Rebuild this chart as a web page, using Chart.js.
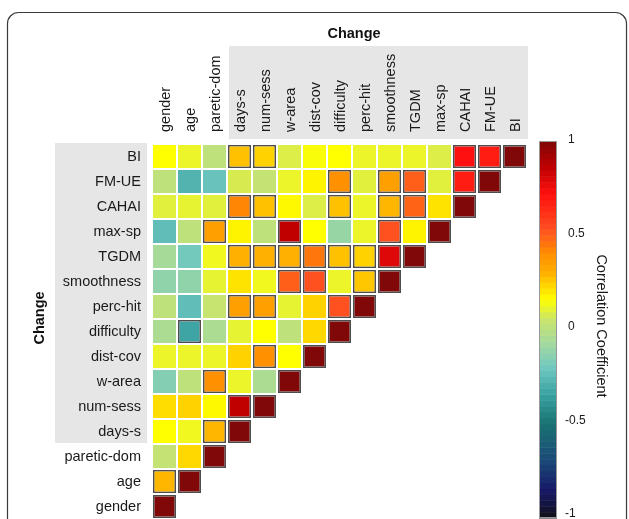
<!DOCTYPE html>
<html>
<head>
<meta charset="utf-8">
<script src="https://cdn.jsdelivr.net/npm/chart.js@4/dist/chart.umd.min.js"></script>
<style>
  html, body { margin: 0; padding: 0; background: #fff; }
  #wrap { width: 629px; height: 519px; }
</style>
</head>
<body>
<div id="wrap"><canvas id="c" width="629" height="519"></canvas></div>
<script>
// Variables, in column order (left to right) and row order (bottom to top)
const variables = ['gender', 'age', 'paretic-dom', 'days-s', 'num-sess', 'w-area', 'dist-cov',
  'difficulty', 'perc-hit', 'smoothness', 'TGDM', 'max-sp', 'CAHAI', 'FM-UE', 'BI'];
// variables from this index on are change scores
const changeStart = 3;

// Pearson correlation of each variable with every variable up to and including itself
const corrGender      = [1];
const corrAge         = [0.29, 1];
const corrPareticDom  = [0.04, 0.23, 1];
const corrDaysS       = [0.16, 0.13, 0.29, 1];
const corrNumSess     = [0.22, 0.24, 0.17, 0.86, 1];
const corrWArea       = [-0.15, 0.02, 0.40, 0.12, -0.04, 1];
const corrDistCov     = [0.12, 0.12, 0.12, 0.24, 0.40, 0.16, 1];
const corrDifficulty  = [-0.04, -0.33, -0.04, 0.11, 0.16, 0.02, 0.23, 1];
const corrPercHit     = [0.02, -0.24, 0.05, 0.35, 0.35, 0.11, 0.24, 0.53, 1];
const corrSmoothness  = [-0.12, -0.12, 0.11, 0.21, 0.13, 0.50, 0.53, 0.12, 0.26, 1];
const corrTGDM        = [-0.06, -0.19, 0.13, 0.30, 0.30, 0.30, 0.45, 0.27, 0.24, 0.79, 1];
const corrMaxSp       = [-0.24, 0.02, 0.35, 0.18, 0.02, 0.86, 0.16, -0.10, 0.12, 0.53, 0.18, 1];
const corrCAHAI       = [0.10, 0.11, 0.10, 0.42, 0.27, 0.17, 0.09, 0.27, 0.12, 0.29, 0.49, 0.21, 1];
const corrFMUE        = [0.02, -0.28, -0.22, 0.08, 0.04, 0.12, 0.18, 0.40, 0.10, 0.35, 0.50, 0.10, 0.68, 1];
const corrBI          = [0.16, 0.12, 0.02, 0.27, 0.24, 0.09, 0.15, 0.16, 0.12, 0.12, 0.12, 0.09, 0.72, 0.68, 1];

// Significant correlations [row, column]; the diagonal is always outlined
const significantPairs = [
  ['BI', 'days-s'], ['BI', 'num-sess'], ['BI', 'CAHAI'], ['BI', 'FM-UE'],
  ['FM-UE', 'difficulty'], ['FM-UE', 'smoothness'], ['FM-UE', 'TGDM'], ['FM-UE', 'CAHAI'],
  ['CAHAI', 'days-s'], ['CAHAI', 'num-sess'], ['CAHAI', 'difficulty'], ['CAHAI', 'smoothness'], ['CAHAI', 'TGDM'],
  ['max-sp', 'paretic-dom'], ['max-sp', 'w-area'], ['max-sp', 'smoothness'],
  ['TGDM', 'days-s'], ['TGDM', 'num-sess'], ['TGDM', 'w-area'], ['TGDM', 'dist-cov'],
  ['TGDM', 'difficulty'], ['TGDM', 'perc-hit'], ['TGDM', 'smoothness'],
  ['smoothness', 'w-area'], ['smoothness', 'dist-cov'], ['smoothness', 'perc-hit'],
  ['perc-hit', 'days-s'], ['perc-hit', 'num-sess'], ['perc-hit', 'difficulty'],
  ['difficulty', 'age'], ['dist-cov', 'num-sess'], ['w-area', 'paretic-dom'],
  ['num-sess', 'days-s'], ['days-s', 'paretic-dom'], ['age', 'gender']
];

const colorbarTicks = [1, 0.5, 0, -0.5, -1];

const rows = [corrGender, corrAge, corrPareticDom, corrDaysS, corrNumSess, corrWArea, corrDistCov,
  corrDifficulty, corrPercHit, corrSmoothness, corrTGDM, corrMaxSp, corrCAHAI, corrFMUE, corrBI];

// Colour map: value -> colour
const colorStops = [
  [-1.00, [16, 16, 24]],
  [-0.85, [24, 24, 104]],
  [-0.70, [26, 72, 120]],
  [-0.50, [26, 114, 114]],
  [-0.35, [56, 160, 160]],
  [-0.20, [112, 200, 192]],
  [-0.08, [160, 216, 160]],
  [ 0.05, [200, 228, 112]],
  [ 0.16, [255, 255, 0]],
  [ 0.30, [255, 176, 0]],
  [ 0.40, [255, 144, 0]],
  [ 0.53, [255, 80, 32]],
  [ 0.72, [255, 16, 16]],
  [ 0.86, [192, 0, 0]],
  [ 1.00, [128, 8, 8]]
];
function colormap(v) {
  if (v <= colorStops[0][0]) return 'rgb(' + colorStops[0][1].join(',') + ')';
  for (let i = 1; i < colorStops.length; i++) {
    const [v1, c1] = colorStops[i];
    if (v <= v1) {
      const [v0, c0] = colorStops[i - 1];
      const t = (v - v0) / (v1 - v0);
      const c = c0.map((a, k) => Math.round(a + (c1[k] - a) * t));
      return 'rgb(' + c.join(',') + ')';
    }
  }
  return 'rgb(' + colorStops[colorStops.length - 1][1].join(',') + ')';
}

function isSignificant(r, c) {
  if (r === c) return true;
  return significantPairs.some(([a, b]) => variables.indexOf(a) === r && variables.indexOf(b) === c);
}

const FONT = '"Liberation Sans", Arial, Helvetica, sans-serif';
const HALF = 0.46;

const datasets = rows.map((vals, r) => ({
  label: variables[r],
  data: variables.map((_, c) => c < vals.length ? [r - HALF, r + HALF] : null),
  grouped: false,
  barPercentage: 1,
  categoryPercentage: 0.92,
  backgroundColor: ctx => {
    const v = vals[ctx.dataIndex];
    return v === undefined ? 'rgba(0,0,0,0)' : colormap(v);
  },
  borderColor: '#4d4d4d',
  borderWidth: ctx => (ctx.dataIndex < vals.length && isSignificant(r, ctx.dataIndex)) ? 1.6 : 0,
  borderSkipped: false
}));

const decorations = {
  id: 'decorations',
  beforeDraw(chart) {
    const { ctx, chartArea, scales: { x, y } } = chart;
    const half = (x.getPixelForValue(1) - x.getPixelForValue(0)) / 2;
    ctx.save();
    ctx.fillStyle = '#fff';
    ctx.fillRect(0, 0, chart.width, chart.height);

    // panel frame
    ctx.strokeStyle = '#3a3a3a';
    ctx.lineWidth = 1.2;
    ctx.beginPath();
    ctx.roundRect(7.5, 12.5, 619, 560, 11);
    ctx.stroke();

    // shaded label blocks for change-score variables
    ctx.fillStyle = '#e6e6e6';
    const bx0 = x.getPixelForValue(changeStart) - half + 2;
    const bx1 = x.getPixelForValue(variables.length - 1) + half + 1;
    ctx.fillRect(bx0, 46, bx1 - bx0, chartArea.top - 5 - 46);
    const by0 = y.getPixelForValue(variables.length - 0.5) - 1;
    const by1 = y.getPixelForValue(changeStart - 0.5) - 1;
    ctx.fillRect(55, by0, chartArea.left - 5 - 55, by1 - by0);

    // group titles
    ctx.fillStyle = '#111';
    ctx.font = 'bold 14.5px ' + FONT;
    ctx.textAlign = 'center';
    ctx.textBaseline = 'middle';
    ctx.fillText('Change', 354, 34);
    ctx.translate(40, 318);
    ctx.rotate(-Math.PI / 2);
    ctx.fillText('Change', 0, 0);
    ctx.restore();
  },
  afterDraw(chart) {
    const { ctx } = chart;
    const top = 141, bottom = 518, left = 539, width = 18;
    const yOf = v => 327 - v * 187;
    ctx.save();
    const steps = 64;
    for (let i = 0; i < steps; i++) {
      const v0 = -1 + (2 * i) / steps;
      const v1 = -1 + (2 * (i + 1)) / steps;
      const yA = Math.max(top, Math.min(bottom, bottom - (bottom - top) * (i + 1) / steps));
      const yB = bottom - (bottom - top) * i / steps;
      ctx.fillStyle = colormap((v0 + v1) / 2);
      ctx.fillRect(left, yA, width, yB - yA + 0.5);
    }
    ctx.strokeStyle = '#999';
    ctx.lineWidth = 1;
    ctx.strokeRect(left + 0.5, top + 0.5, width - 1, bottom - top - 1);

    ctx.fillStyle = '#1a1a1a';
    ctx.font = '12px ' + FONT;
    ctx.textBaseline = 'middle';
    ctx.textAlign = 'left';
    colorbarTicks.forEach(v => {
      const label = String(v);
      const xOff = v < 0 ? 565 : 568;
      ctx.fillText(label, xOff, yOf(v));
    });

    ctx.font = '14.5px ' + FONT;
    ctx.textAlign = 'center';
    ctx.translate(601, 326);
    ctx.rotate(Math.PI / 2);
    ctx.fillText('Correlation Coefficient', 0, 0);
    ctx.restore();
  }
};

new Chart(document.getElementById('c'), {
  type: 'bar',
  data: { labels: variables, datasets },
  options: {
    responsive: false,
    animation: false,
    events: [],
    layout: { padding: { left: 0, right: 102, top: 0, bottom: 0 } },
    plugins: { legend: { display: false }, tooltip: { enabled: false } },
    scales: {
      x: {
        type: 'category',
        position: 'top',
        offset: true,
        grid: { display: false, drawTicks: false },
        border: { display: false },
        ticks: {
          autoSkip: false, minRotation: 90, maxRotation: 90, padding: 12, labelOffset: 18.5,
          color: '#1a1a1a', font: { family: FONT, size: 14.5 }
        },
        afterFit: s => { s.height = 144; s.paddingLeft = 0; s.paddingRight = 0; }
      },
      y: {
        type: 'linear',
        min: -0.5,
        max: variables.length - 0.5,
        grid: { display: false, drawTicks: false },
        border: { display: false },
        ticks: {
          autoSkip: false, padding: 11, color: '#1a1a1a', font: { family: FONT, size: 14.5 },
          callback: v => variables[v]
        },
        afterBuildTicks: s => { s.ticks = variables.map((_, i) => ({ value: i })); },
        afterFit: s => { s.width = 152; s.paddingTop = 0; s.paddingBottom = 0; }
      }
    }
  },
  plugins: [decorations]
});
</script>
</body>
</html>
